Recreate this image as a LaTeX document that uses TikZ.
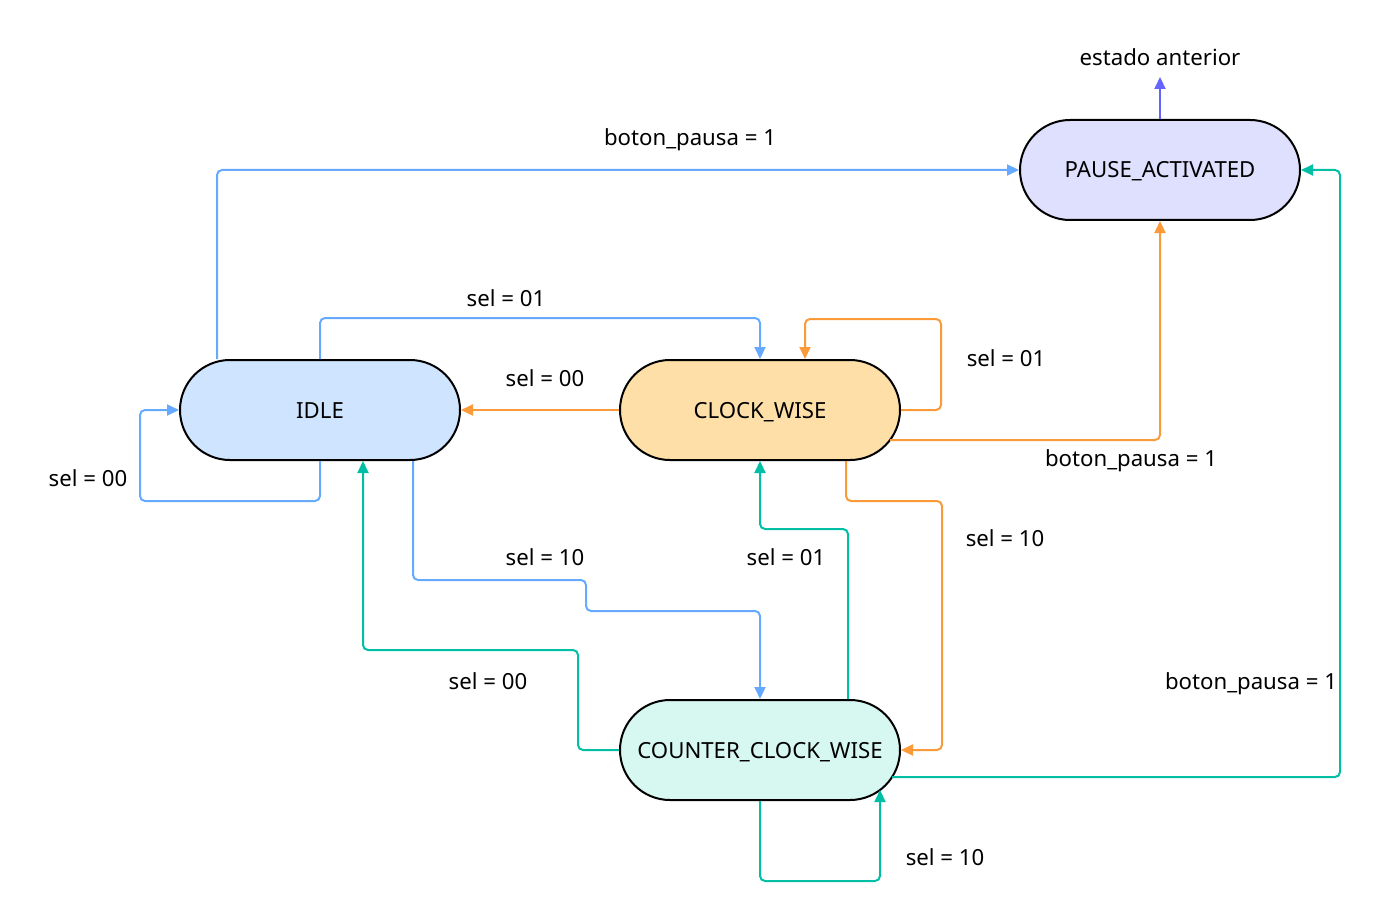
\documentclass[tikz,border=0pt]{standalone}
\usepackage{fontspec}
\setmainfont{Noto Sans}
\usetikzlibrary{arrows.meta}
\definecolor{cblue}{HTML}{66AAFF}
\definecolor{corange}{HTML}{FB9A38}
\definecolor{cteal}{HTML}{00BFA5}
\definecolor{cpurple}{HTML}{6464FF}
\definecolor{fidle}{HTML}{CFE4FF}
\definecolor{fcw}{HTML}{FEDFA8}
\definecolor{fccw}{HTML}{D6F8F0}
\definecolor{fpause}{HTML}{DFDFFE}
\begin{document}
\begin{tikzpicture}[x=1pt,y=-1pt,
  every node/.style={font=\fontsize{22.2}{26}\selectfont},
  state/.style={draw=black, line width=2pt, rounded corners=50pt,
    minimum width=280pt, minimum height=100pt, inner sep=0pt},
  conn/.style={line width=2pt, rounded corners=5pt,
    -{Triangle[length=12pt,width=11pt]}},
  lbl/.style={anchor=base, inner sep=0pt},
  stlbl/.style={anchor=base, inner sep=0pt}]
\useasboundingbox (0,0) rectangle (1381,920);
\node[state, fill=fpause] (pause) at (1160,170) {};
\node[state, fill=fidle] (idle) at (320,410) {};
\node[state, fill=fcw] (cw) at (760,410) {};
\node[state, fill=fccw] (ccw) at (760,750) {};
\node[stlbl] (tpause) at (1160,178) {PAUSE\_ACTIVATED};
\node[stlbl] (tidle) at (320,418) {IDLE};
\node[stlbl] (tcw) at (760,418) {CLOCK\_WISE};
\node[stlbl] (tccw) at (760,758) {COUNTER\_CLOCK\_WISE};
\coordinate (esttip) at (1160,77);
\node[lbl] (est) at (1160,66) {estado anterior};
% labels
\node[lbl] (l1) at (690,146) {boton\_pausa = 1};
\node[lbl] (l2) at (506,306) {sel = 01};
\node[lbl] (l3) at (545,386) {sel = 00};
\node[lbl] (l4) at (1006,366) {sel = 01};
\node[lbl] (l5) at (88,486) {sel = 00};
\node[lbl] (l6) at (1131,466) {boton\_pausa = 1};
\node[lbl] (l7) at (1005,546) {sel = 10};
\node[lbl] (l8) at (545,565) {sel = 10};
\node[lbl] (l9) at (786,565) {sel = 01};
\node[lbl] (l10) at (488,689) {sel = 00};
\node[lbl] (l11) at (1251,689) {boton\_pausa = 1};
\node[lbl] (l12) at (945,865) {sel = 10};
% blue
\draw[conn, cblue] ([xshift=-103pt]idle.north) |- (pause.west);
\draw[conn, cblue] (idle.north) -- ++(0,-41) -| (cw.north);
\draw[conn, cblue] (idle.south) -- ++(0,40) -- ++(-180,0) |- (idle.west);
\draw[conn, cblue] ([xshift=93pt]idle.south) -- ++(0,119) -- ++(173,0) -- ++(0,31) -| (ccw.north);
% orange
\draw[conn, corange] (cw.west) -- (idle.east);
\draw[conn, corange] (cw.east) -- ++(40,0) -- ++(0,-91) -| ([xshift=45pt]cw.north);
\draw[conn, corange] ([xshift=130pt,yshift=-30pt]cw.center) -| (pause.south);
\draw[conn, corange] ([xshift=86pt]cw.south) -- ++(0,40) -- ++(96,0) |- (ccw.east);
% teal
\draw[conn, cteal] ([xshift=88pt]ccw.north) -- ++(0,-170) -| (cw.south);
\draw[conn, cteal] (ccw.west) -- ++(-41,0) -- ++(0,-100) -| ([xshift=43pt]idle.south);
\draw[conn, cteal] ([xshift=132pt,yshift=-27pt]ccw.center) -- ++(448,0) |- (pause.east);
\draw[conn, cteal] (ccw.south) -- ++(0,80) -| ([xshift=120pt,yshift=-40pt]ccw.center);
% purple
\draw[conn, cpurple] (pause.north) -- (esttip);
\end{tikzpicture}
\end{document}
